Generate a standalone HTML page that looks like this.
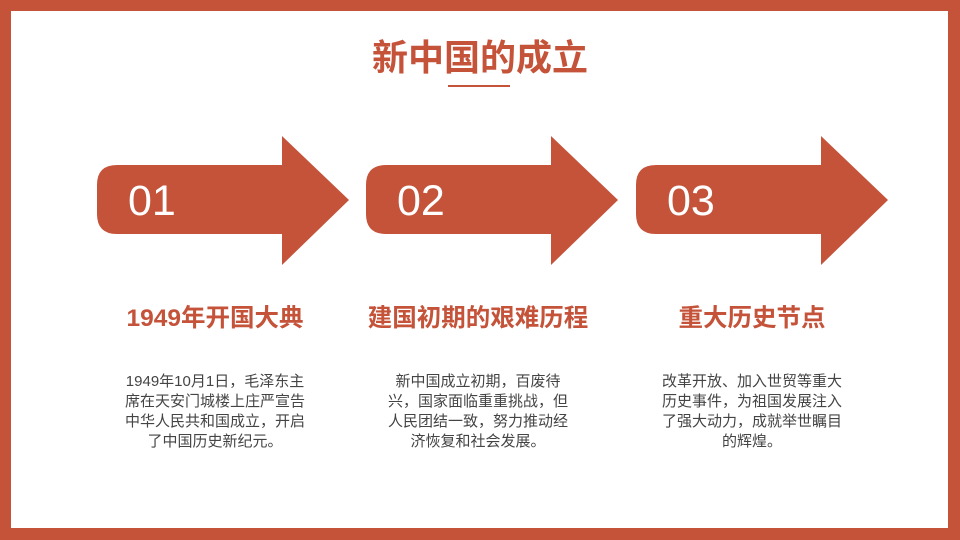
<!DOCTYPE html>
<html><head><meta charset="utf-8"><style>
body{margin:0;width:960px;height:540px;overflow:hidden;background:#C4533A;font-family:"Liberation Sans","Noto Sans CJK SC",sans-serif;}
#in{position:absolute;left:11px;top:11px;width:937px;height:517px;background:#fff;}
h1{position:absolute;left:0;width:960px;top:29px;margin:0;text-align:center;font-size:36px;color:#C4533A;font-weight:bold;}
.h{position:absolute;width:280px;text-align:center;font-size:24.5px;font-weight:bold;color:#C4533A;top:299px;}
.p{position:absolute;width:186px;text-align:center;font-size:15px;line-height:20px;color:#444;top:372px;}
.n{position:absolute;color:#fff;font-size:43px;top:177px;}
</style></head><body>
<div id="in"></div>
<h1>新中国的成立</h1>
<div style="position:absolute;left:448px;top:85px;width:62px;height:2px;background:#C4533A"></div>
<svg style="position:absolute;left:0;top:0" width="960" height="540">
<g fill="#C4533A">
<path d="M117 165 H282 V136 L349 200 L282 265 V234 H117 Q97 234 97 214 V185 Q97 165 117 165Z"/>
<path transform="translate(269,0)" d="M117 165 H282 V136 L349 200 L282 265 V234 H117 Q97 234 97 214 V185 Q97 165 117 165Z"/>
<path transform="translate(539,0)" d="M117 165 H282 V136 L349 200 L282 265 V234 H117 Q97 234 97 214 V185 Q97 165 117 165Z"/>
</g></svg>
<div class="n" style="left:128px">01</div>
<div class="n" style="left:397px">02</div>
<div class="n" style="left:667px">03</div>
<div class="h" style="left:75px">1949年开国大典</div>
<div class="h" style="left:338px">建国初期的艰难历程</div>
<div class="h" style="left:612px">重大历史节点</div>
<div class="p" style="left:122px">1949年10月1日，毛泽东主席在天安门城楼上庄严宣告中华人民共和国成立，开启了中国历史新纪元。</div>
<div class="p" style="left:385px">新中国成立初期，百废待兴，国家面临重重挑战，但人民团结一致，努力推动经济恢复和社会发展。</div>
<div class="p" style="left:659px">改革开放、加入世贸等重大历史事件，为祖国发展注入了强大动力，成就举世瞩目的辉煌。</div>
</body></html>
